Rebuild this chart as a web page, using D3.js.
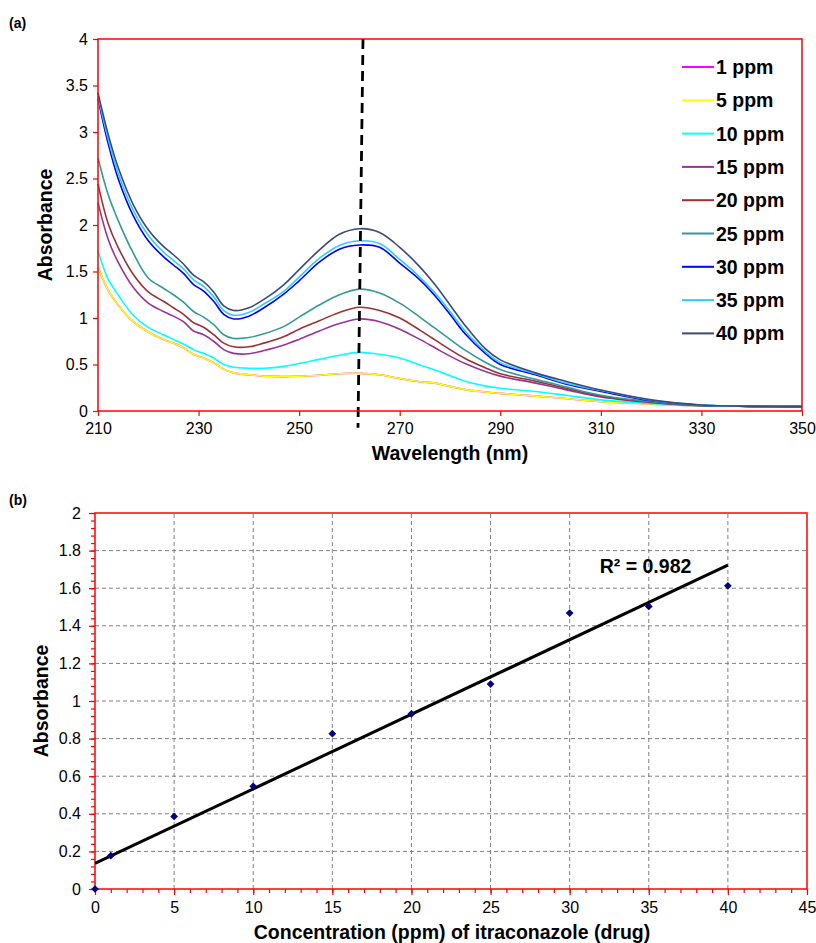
<!DOCTYPE html>
<html lang="en">
<head>
<meta charset="UTF-8">
<title>Itraconazole UV spectra</title>
<script src="https://d3js.org/d3.v7.min.js"></script>
<style>
  body { margin: 0; background: #fff; }
  svg { display: block; }
  text { font-family: "Liberation Sans", Arial, sans-serif; fill: #000; }
  .tick text { font-size: 16px; }
  .bold { font-weight: bold; font-size: 19.5px; }
  .panel { font-weight: bold; font-size: 14px; }
</style>
</head>
<body>
<script>
  const width = 816;
  const height = 943;

  // ---- panel (a) data: absorbance spectra ----
  const wavelengths = [210, 212, 214, 217, 220, 223, 225, 227, 229, 231, 233, 235, 237, 240, 243, 247, 250, 254, 258, 262,
                       266, 270, 274, 277, 280, 283, 287, 290, 297, 303, 310, 320, 330, 340, 350];
  const seriesNames = ["1 ppm", "5 ppm", "10 ppm", "15 ppm", "20 ppm", "25 ppm", "30 ppm", "35 ppm", "40 ppm"];
  const seriesColors = ["#ff00ff", "#ffff00", "#00ffff", "#993399", "#993333", "#339999", "#0000ff", "#33ccff", "#3b4a7a"];

  const abs1 = [1.55, 1.30, 1.14, 0.96, 0.85, 0.77, 0.73, 0.68, 0.61, 0.57, 0.52, 0.45, 0.41, 0.39, 0.375, 0.37, 0.375, 0.385, 0.40, 0.405,
                0.39, 0.35, 0.315, 0.30, 0.265, 0.23, 0.205, 0.19, 0.16, 0.135, 0.10, 0.075, 0.055, 0.05, 0.047];
  const abs5 = [1.55, 1.30, 1.14, 0.96, 0.85, 0.77, 0.73, 0.68, 0.61, 0.57, 0.52, 0.45, 0.41, 0.39, 0.375, 0.37, 0.375, 0.385, 0.40, 0.405,
                0.39, 0.35, 0.315, 0.30, 0.265, 0.23, 0.205, 0.19, 0.16, 0.135, 0.10, 0.075, 0.055, 0.05, 0.047];
  const abs10 = [1.72, 1.42, 1.25, 1.03, 0.90, 0.82, 0.77, 0.72, 0.66, 0.62, 0.57, 0.50, 0.47, 0.46, 0.46, 0.48, 0.51, 0.555, 0.60, 0.63,
                 0.61, 0.57, 0.495, 0.44, 0.38, 0.32, 0.27, 0.245, 0.21, 0.17, 0.12, 0.08, 0.055, 0.05, 0.047];
  const abs15 = [2.24, 1.85, 1.60, 1.33, 1.16, 1.07, 1.02, 0.96, 0.86, 0.82, 0.75, 0.66, 0.62, 0.615, 0.65, 0.71, 0.77, 0.86, 0.94, 0.99,
                 0.96, 0.88, 0.77, 0.68, 0.59, 0.51, 0.425, 0.375, 0.30, 0.23, 0.15, 0.09, 0.057, 0.05, 0.047];
  const abs20 = [2.44, 2.02, 1.76, 1.47, 1.28, 1.18, 1.11, 1.04, 0.95, 0.90, 0.82, 0.73, 0.69, 0.69, 0.73, 0.80, 0.88, 0.97, 1.06, 1.115,
                 1.08, 1.00, 0.87, 0.765, 0.66, 0.565, 0.465, 0.40, 0.32, 0.245, 0.16, 0.095, 0.058, 0.05, 0.047];
  const abs25 = [2.72, 2.33, 2.05, 1.70, 1.43, 1.32, 1.25, 1.17, 1.07, 1.01, 0.93, 0.82, 0.78, 0.79, 0.83, 0.91, 1.01, 1.14, 1.25, 1.31,
                 1.27, 1.16, 1.01, 0.89, 0.77, 0.655, 0.525, 0.445, 0.34, 0.26, 0.17, 0.10, 0.06, 0.05, 0.047];
  const abs30 = [3.36, 2.88, 2.50, 2.10, 1.83, 1.66, 1.57, 1.48, 1.36, 1.29, 1.18, 1.04, 0.99, 1.02, 1.11, 1.26, 1.40, 1.60, 1.74, 1.785,
                 1.76, 1.59, 1.41, 1.24, 1.04, 0.83, 0.62, 0.50, 0.39, 0.29, 0.21, 0.11, 0.062, 0.05, 0.047];
  const abs35 = [3.39, 2.93, 2.56, 2.16, 1.89, 1.71, 1.62, 1.53, 1.41, 1.34, 1.23, 1.08, 1.03, 1.06, 1.15, 1.29, 1.44, 1.64, 1.78, 1.83,
                 1.80, 1.63, 1.44, 1.27, 1.07, 0.86, 0.64, 0.52, 0.40, 0.30, 0.22, 0.115, 0.063, 0.05, 0.047];
  const abs40 = [3.42, 2.98, 2.62, 2.22, 1.95, 1.77, 1.68, 1.58, 1.46, 1.39, 1.28, 1.13, 1.08, 1.11, 1.20, 1.36, 1.52, 1.73, 1.90, 1.96,
                 1.92, 1.76, 1.55, 1.36, 1.14, 0.92, 0.67, 0.55, 0.41, 0.32, 0.225, 0.12, 0.065, 0.05, 0.047];
  const spectra = [abs1, abs5, abs10, abs15, abs20, abs25, abs30, abs35, abs40];

  const xTicksA = [210, 230, 250, 270, 290, 310, 330, 350];
  const yTicksA = [0, 0.5, 1, 1.5, 2, 2.5, 3, 3.5, 4];
  const peakLine = [[262.7, 4], [261.7, -0.18]];

  // ---- panel (b) data: calibration ----
  const concentrations = [0, 1, 5, 10, 15, 20, 25, 30, 35, 40];
  const absorbances = [0, 0.177, 0.386, 0.546, 0.826, 0.932, 1.09, 1.468, 1.503, 1.613];
  const xTicksB = d3.range(0, 46, 5);
  const yTicksB = [0, 0.2, 0.4, 0.6, 0.8, 1, 1.2, 1.4, 1.6, 1.8, 2];
  const r2Label = "R² = 0.982";

  const svg = d3.select("body").append("svg").attr("width", width).attr("height", height);

  function styleAxis(g) {
    g.select(".domain").remove();
    g.selectAll(".tick line").attr("stroke", "#ff0000").attr("stroke-width", 1.2);
  }

  // ================= panel (a) =================
  const xA = d3.scaleLinear().domain([210, 350]).range([98, 802]);
  const yA = d3.scaleLinear().domain([0, 4]).range([411, 39]);

  svg.append("text").attr("class", "panel").attr("x", 9).attr("y", 28).text("(a)");

  svg.append("g").attr("transform", `translate(0,${yA(0)})`)
    .call(d3.axisBottom(xA).tickValues(xTicksA).tickSize(5).tickPadding(7).tickFormat(d3.format("d")))
    .call(styleAxis);
  svg.append("g").attr("transform", `translate(${xA(210)},0)`)
    .call(d3.axisLeft(yA).tickValues(yTicksA).tickSize(5).tickPadding(5).tickFormat(d => d))
    .call(styleAxis);

  const lineA = d3.line()
    .x((d, i) => xA(wavelengths[i]))
    .y(d => yA(d))
    .curve(d3.curveCatmullRom.alpha(0.5));

  svg.append("g").selectAll("path").data(spectra).join("path")
    .attr("d", lineA)
    .attr("fill", "none")
    .attr("stroke", (d, i) => seriesColors[i])
    .attr("stroke-width", 1.6);

  svg.append("line")
    .attr("x1", xA(peakLine[0][0])).attr("y1", yA(peakLine[0][1]))
    .attr("x2", xA(peakLine[1][0])).attr("y2", yA(peakLine[1][1]))
    .attr("stroke", "#000").attr("stroke-width", 2.8).attr("stroke-dasharray", "10,6");

  svg.append("rect")
    .attr("x", xA(210)).attr("y", yA(4))
    .attr("width", xA(350) - xA(210)).attr("height", yA(0) - yA(4))
    .attr("fill", "none").attr("stroke", "#ff0000").attr("stroke-width", 1.5);

  const legend = svg.append("g").selectAll("g").data(seriesNames).join("g")
    .attr("transform", (d, i) => `translate(682,${67 + i * 33.3})`);
  legend.append("line").attr("x1", 0).attr("x2", 32)
    .attr("stroke", (d, i) => seriesColors[i]).attr("stroke-width", 2);
  legend.append("text").attr("class", "bold").attr("x", 34).attr("dy", "0.36em").text(d => d);

  svg.append("text").attr("class", "bold").attr("text-anchor", "middle")
    .attr("x", 450).attr("y", 460).text("Wavelength (nm)");
  svg.append("text").attr("class", "bold").attr("text-anchor", "middle")
    .attr("transform", `translate(52,${(yA(0) + yA(4)) / 2}) rotate(-90)`).text("Absorbance");

  // ================= panel (b) =================
  const xB = d3.scaleLinear().domain([0, 45]).range([95, 807]);
  const yB = d3.scaleLinear().domain([0, 2]).range([889, 513]);

  svg.append("text").attr("class", "panel").attr("x", 9).attr("y", 505).text("(b)");

  // grid
  const grid = svg.append("g").attr("stroke", "#808080").attr("stroke-width", 1).attr("stroke-dasharray", "4,3");
  grid.selectAll(".gx").data(xTicksB.filter(d => d > 0 && d < 45)).join("line")
    .attr("x1", d => xB(d)).attr("x2", d => xB(d)).attr("y1", yB(0)).attr("y2", yB(2));
  grid.selectAll(".gy").data(yTicksB.filter(d => d > 0 && d < 2)).join("line")
    .attr("y1", d => yB(d)).attr("y2", d => yB(d)).attr("x1", xB(0)).attr("x2", xB(45));

  // minor ticks
  svg.append("g").attr("transform", `translate(0,${yB(0)})`)
    .call(d3.axisBottom(xB).tickValues(d3.range(0, 46, 1)).tickSize(4).tickFormat(""))
    .call(styleAxis);
  svg.append("g").attr("transform", `translate(${xB(0)},0)`)
    .call(d3.axisLeft(yB).tickValues(d3.range(0, 51).map(i => i * 0.04)).tickSize(4).tickFormat(""))
    .call(styleAxis);

  svg.append("g").attr("transform", `translate(0,${yB(0)})`)
    .call(d3.axisBottom(xB).tickValues(xTicksB).tickSize(6).tickPadding(7).tickFormat(d3.format("d")))
    .call(styleAxis);
  svg.append("g").attr("transform", `translate(${xB(0)},0)`)
    .call(d3.axisLeft(yB).tickValues(yTicksB).tickSize(6).tickPadding(8).tickFormat(d => d))
    .call(styleAxis);

  svg.append("rect")
    .attr("x", xB(0)).attr("y", yB(2))
    .attr("width", xB(45) - xB(0)).attr("height", yB(0) - yB(2))
    .attr("fill", "none").attr("stroke", "#ff0000").attr("stroke-width", 1.5);

  // least-squares trendline
  const mx = d3.mean(concentrations), my = d3.mean(absorbances);
  const slope = d3.sum(concentrations, (c, i) => (c - mx) * (absorbances[i] - my)) /
                d3.sum(concentrations, c => (c - mx) * (c - mx));
  const intercept = my - slope * mx;
  const fitX = d3.extent(concentrations);
  svg.append("line")
    .attr("x1", xB(fitX[0])).attr("y1", yB(intercept + slope * fitX[0]))
    .attr("x2", xB(fitX[1])).attr("y2", yB(intercept + slope * fitX[1]))
    .attr("stroke", "#000").attr("stroke-width", 3);

  svg.append("g").selectAll("path").data(concentrations).join("path")
    .attr("d", d3.symbol(d3.symbolSquare, 30))
    .attr("transform", (d, i) => `translate(${xB(d)},${yB(absorbances[i])}) rotate(45)`)
    .attr("fill", "#000080");

  svg.append("text").attr("class", "bold")
    .attr("x", xB(31.9)).attr("y", yB(1.68)).text(r2Label);

  svg.append("text").attr("class", "bold").attr("text-anchor", "middle")
    .attr("x", 452).attr("y", 939).text("Concentration (ppm) of itraconazole (drug)");
  svg.append("text").attr("class", "bold").attr("text-anchor", "middle")
    .attr("transform", `translate(48,${(yB(0) + yB(2)) / 2}) rotate(-90)`).text("Absorbance");
</script>
</body>
</html>
